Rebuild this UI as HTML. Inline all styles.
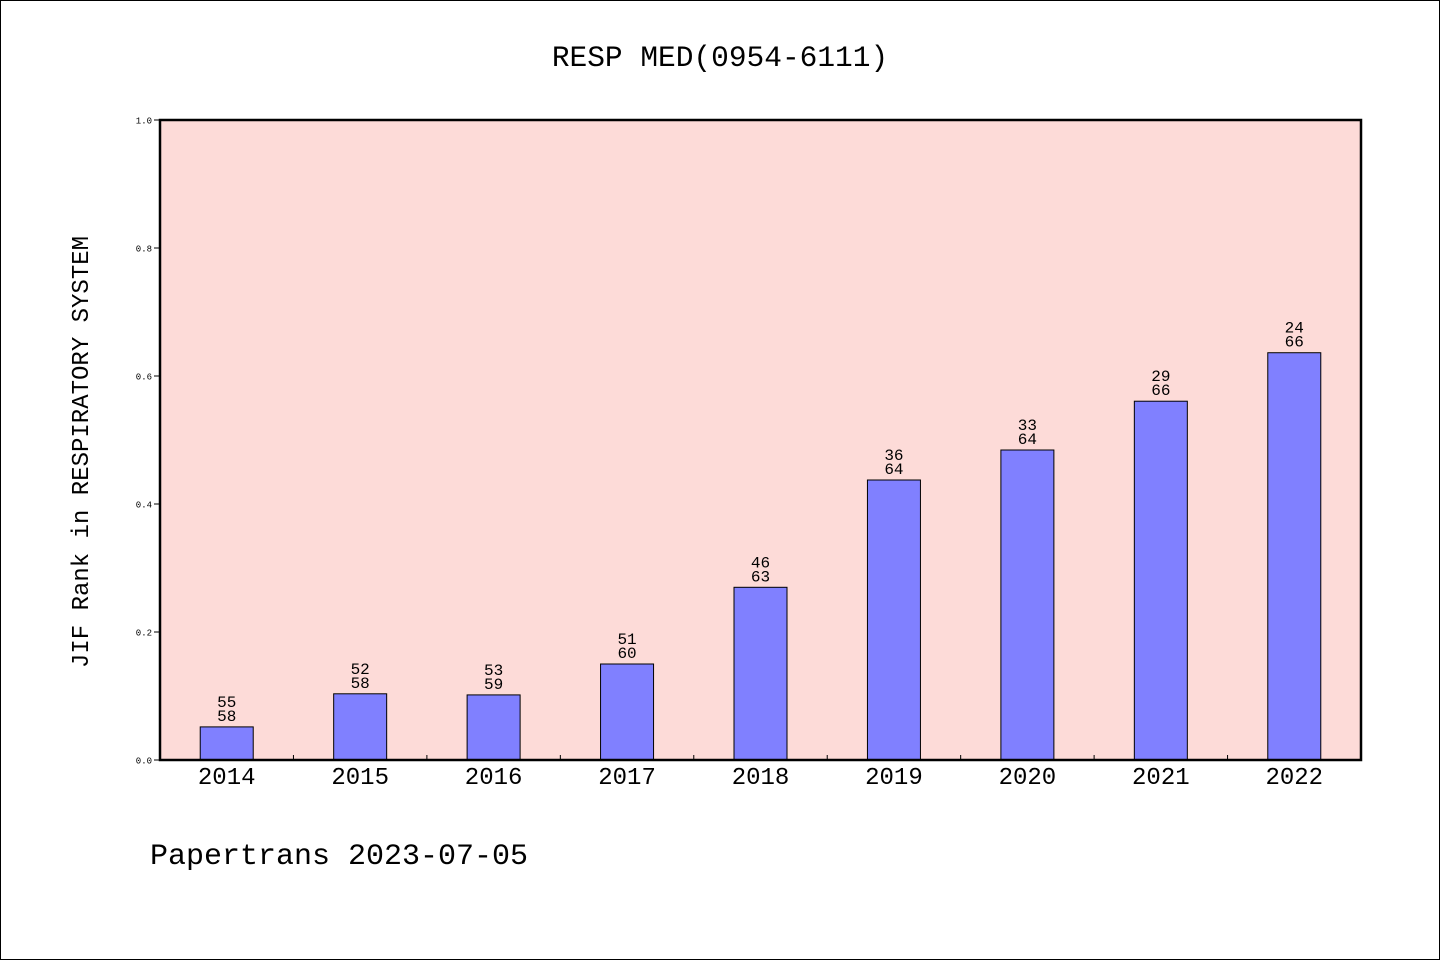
<!DOCTYPE html>
<html><head><meta charset="utf-8">
<style>
html,body{margin:0;padding:0;background:#fff;}
svg{display:block;}
text{font-family:"Liberation Mono","DejaVu Sans Mono",monospace;fill:#000;}
</style></head>
<body>
<svg id="chart" width="1440" height="960" viewBox="0 0 1440 960" xmlns="http://www.w3.org/2000/svg">
<rect x="0.5" y="0.5" width="1439" height="959" fill="#fff" stroke="#000" stroke-width="1"/>
<text x="720" y="66" font-size="29.5" text-anchor="middle">RESP MED(0954-6111)</text>
<rect x="160" y="120" width="1201" height="640" fill="#fddbd8"/>
<g id="bars"></g>
<g id="axes"></g>
<rect x="160" y="120" width="1201" height="640" fill="none" stroke="#000" stroke-width="2.5"/>
<text transform="translate(88,452) rotate(-90)" font-size="24" text-anchor="middle">JIF Rank in RESPIRATORY SYSTEM</text>
<text x="150" y="864" font-size="30">Papertrans 2023-07-05</text>
</svg>
<script>
const categories = ["2014","2015","2016","2017","2018","2019","2020","2021","2022"];
const ranks = [55,52,53,51,46,36,33,29,24];
const totals = [58,58,59,60,63,64,64,66,66];
const yTicks = [0.0,0.2,0.4,0.6,0.8,1.0];
const yTickLabels = ["0.0","0.2","0.4","0.6","0.8","1.0"];

const NS="http://www.w3.org/2000/svg";
const X0=160,X1=1361,Y0=760,Y1=120;
const band=(X1-X0)/categories.length;
const xCenter=i=>X0+band*(i+0.5);
const yScale=v=>Y0-(Y0-Y1)*v;
const barW=53;
function mk(tag,attrs,parent){const e=document.createElementNS(NS,tag);for(const k in attrs)e.setAttribute(k,attrs[k]);parent.appendChild(e);return e;}
const bars=document.getElementById('bars');
const axes=document.getElementById('axes');
categories.forEach((c,i)=>{
  const v=(totals[i]-ranks[i])/totals[i];
  const cx=xCenter(i), top=yScale(v);
  const r=mk('rect',{x:cx-barW/2,y:top,width:barW,height:Y0-top,fill:'#8080ff',stroke:'#000','stroke-width':1},bars);
  
  
  const t1=mk('text',{x:cx,y:top-20,'font-size':16,'text-anchor':'middle'},bars);
  t1.textContent=ranks[i];
  
  
  const t2=mk('text',{x:cx,y:top-6,'font-size':16,'text-anchor':'middle'},bars);
  t2.textContent=totals[i];
  
  
  const xl=mk('text',{x:cx,y:784,'font-size':24,'text-anchor':'middle'},axes);
  xl.textContent=c;
  
  
  if(i>0){
    const tk=mk('line',{x1:X0+band*i,x2:X0+band*i,y1:Y0,y2:Y0-5,stroke:'#000','stroke-width':1},axes);
    
    
  }
});
yTicks.forEach((v,i)=>{
  const y=yScale(v);
  const tk=mk('line',{x1:X0-6,x2:X0,y1:y,y2:y,stroke:'#000','stroke-width':1},axes);
  
  
  const tl=mk('text',{x:X0-8,y:y+3.5,'font-size':9,'text-anchor':'end'},axes);
  tl.textContent=yTickLabels[i];
  
  
});
</script>
</body></html>
